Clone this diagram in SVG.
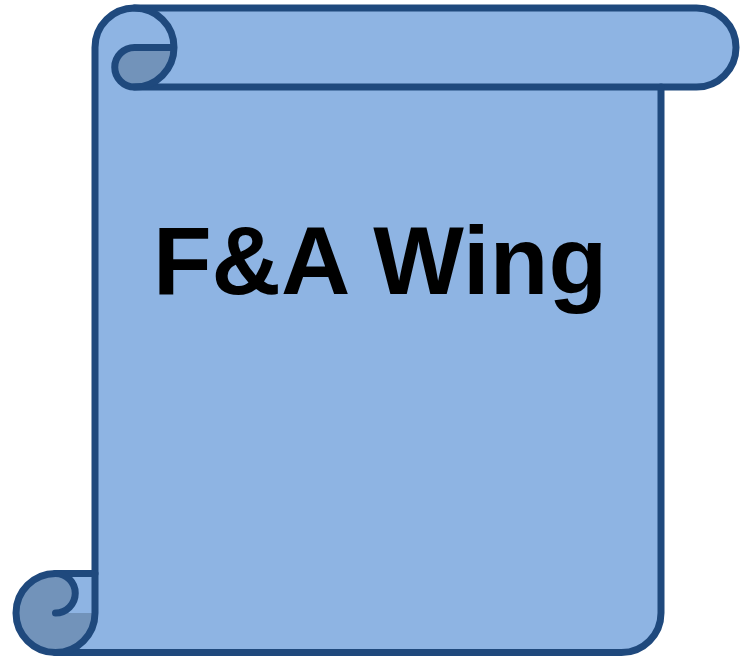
<svg xmlns="http://www.w3.org/2000/svg" width="741" height="659" viewBox="0 0 741 659">
  <style>
    .light { fill: #8EB4E3; stroke: none; }
    .dark { fill: #7293BA; stroke: none; }
    .line { fill: none; stroke: #1F497D; stroke-width: 7; stroke-linejoin: round; stroke-linecap: round; }
    .label { font-family: "Liberation Sans", Arial, sans-serif; font-weight: bold; font-size: 96px; fill: #000000; }
  </style>
  <g id="scroll">
    <path class="light" d="M134.5,8 L696.5,8 A39.5,39.5 0 0 1 696.5,87 L661,87 L661,613 A39.5,39.5 0 0 1 621.5,652.5 L55.5,652.5 A39.5,39.5 0 0 1 16,613 A39.5,39.5 0 0 1 55.5,573.5 L95,573.5 L95,47.5 A39.5,39.5 0 0 1 134.5,8 Z"/>
    <path class="dark" d="M134.5,47.5 L174,47.5 A39.5,39.5 0 0 1 134.5,87 A19.75,19.75 0 0 1 134.5,47.5 Z"/>
    <path class="dark" d="M55.5,652.5 A39.5,39.5 0 0 1 16,613 A39.5,39.5 0 0 1 55.5,573.5 A19.75,19.75 0 0 1 55.5,613 L95,613 A39.5,39.5 0 0 1 55.5,652.5 Z"/>
    <path class="line" d="M134.5,8 L696.5,8 A39.5,39.5 0 0 1 696.5,87 L661,87 L661,613 A39.5,39.5 0 0 1 621.5,652.5 L55.5,652.5 A39.5,39.5 0 0 1 16,613 A39.5,39.5 0 0 1 55.5,573.5 L95,573.5 L95,47.5 A39.5,39.5 0 0 1 134.5,8 Z"/>
    <path class="line" d="M661,87 L134.5,87"/>
    <path class="line" d="M134.5,8 A39.5,39.5 0 0 1 134.5,87 A19.75,19.75 0 0 1 134.5,47.5 L174,47.5"/>
    <path class="line" d="M95,573.5 L95,613 A39.5,39.5 0 0 1 55.5,652.5"/>
    <path class="line" d="M55.5,573.5 A19.75,19.75 0 0 1 55.5,613"/>
  </g>
  <g id="title">
    <text class="label" x="380" y="294" text-anchor="middle">F&amp;A Wing</text>
  </g>
</svg>
